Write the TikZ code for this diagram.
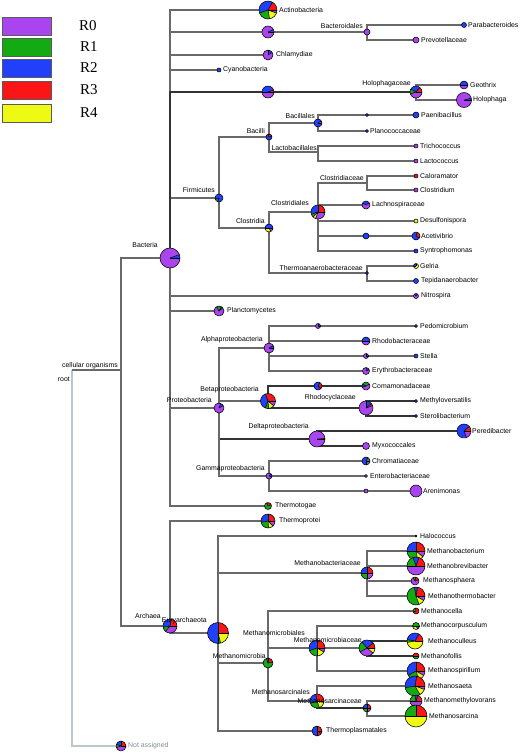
\documentclass[tikz,border=0pt]{standalone}
\usepackage{fontspec}
\setmainfont{Liberation Sans}
\newfontfamily\legfont{Liberation Serif}
\definecolor{pu}{RGB}{170,68,238}
\definecolor{gr}{RGB}{20,170,20}
\definecolor{bl}{RGB}{32,64,250}
\definecolor{rd}{RGB}{250,22,22}
\definecolor{ye}{RGB}{238,250,20}
\definecolor{edgegray}{RGB}{105,105,105}
\definecolor{rootgray}{RGB}{185,200,205}
\definecolor{nagray}{RGB}{125,140,145}
\tikzset{
  edge/.style={draw=edgegray, line width=1.3pt},
  darkedge/.style={draw=black!80, line width=1.4pt},
  rootedge/.style={draw=rootgray, line width=1.3pt},
  pieline/.style={draw=black, line width=0.55pt},
  lab/.style={font=\fontsize{6.9}{7}\selectfont, inner sep=0pt, text=black},
  leaflab/.style={lab, anchor=west},
  inlab/.style={lab, anchor=east},
  legbox/.style={draw={rgb,255:red,90;green,90;blue,90}, line width=0.8pt, minimum width=49pt, minimum height=18pt, inner sep=0pt},
  leglab/.style={font=\legfont\fontsize{15}{15}\selectfont, inner sep=0pt, anchor=west}
}
\newcommand{\mypie}[3]{%
  \foreach \sa/\sb/\sc in {#3}{\fill[fill=\sc] (#1) -- ++(\sa:#2pt) arc[start angle=\sa,end angle=\sb,radius=#2pt] -- cycle;}%
  \foreach \sa/\sb/\sc in {#3}{\draw[pieline] (#1) -- ++(\sa:#2pt);}%
  \draw[pieline] (#1) circle[radius=#2pt];}
\newcommand{\mydot}[3]{\fill[fill=#3] (#1) circle[radius=#2pt]; \draw[pieline] (#1) circle[radius=#2pt];}
\begin{document}
\begin{tikzpicture}[x=1pt,y=-1pt]
\useasboundingbox (0,0) rectangle (520,753);
% legend
\node[legbox, fill=pu] (k0) at (26.5,26) {};
\node[legbox, fill=gr] (k1) at (26.5,47) {};
\node[legbox, fill=bl] (k2) at (26.5,68) {};
\node[legbox, fill=rd] (k3) at (26.5,90) {};
\node[legbox, fill=ye] (k4) at (26.5,113) {};
\node[leglab] (t0) at (79,26) {R0};
\node[leglab] (t1) at (80,47) {R1};
\node[leglab] (t2) at (80,68) {R2};
\node[leglab] (t3) at (80,90) {R3};
\node[leglab] (t4) at (80,113) {R4};
% coordinates
\coordinate (root) at (72,370);
\coordinate (cell) at (121,370);
\coordinate (na) at (121,746);
\coordinate (bact) at (170,258);
\coordinate (actino) at (268,10);
\coordinate (bacteroid) at (268,32);
\coordinate (bacteroidales) at (367,32);
\coordinate (parab) at (464,25);
\coordinate (prevo) at (416,40);
\coordinate (chlam) at (268,55);
\coordinate (cyano) at (219,70);
\coordinate (acido) at (268,92);
\coordinate (holoph) at (416,92);
\coordinate (geoth) at (464,85);
\coordinate (holoa) at (464,100);
\coordinate (firm) at (219,198);
\coordinate (bacilli) at (269,137);
\coordinate (bacillales) at (318,123);
\coordinate (paeni1) at (367,115);
\coordinate (paeni) at (416,115);
\coordinate (plano) at (367,131);
\coordinate (lacto) at (318,152);
\coordinate (tricho) at (416,146);
\coordinate (lactoc) at (416,161);
\coordinate (clostridia) at (269,228);
\coordinate (clostridiales) at (318,212);
\coordinate (clostridiaceae) at (367,183);
\coordinate (calor) at (416,176);
\coordinate (clostr) at (416,190);
\coordinate (lachno) at (366,205);
\coordinate (desulf) at (416,221);
\coordinate (aceti1) at (366,236);
\coordinate (aceti) at (416,236);
\coordinate (syntro) at (416,251);
\coordinate (thermoan) at (367,273);
\coordinate (gelria) at (416,266);
\coordinate (tepid) at (416,281);
\coordinate (nitro) at (416,296);
\coordinate (planct) at (219,311);
\coordinate (proteo) at (219,408);
\coordinate (alpha) at (269,348);
\coordinate (pedo1) at (318,326);
\coordinate (pedo) at (416,326);
\coordinate (rhodob) at (366,341);
\coordinate (stella1) at (366,356);
\coordinate (stella) at (416,356);
\coordinate (erythro) at (366,371);
\coordinate (beta) at (268,401);
\coordinate (coma1) at (318,386);
\coordinate (coma) at (366,386);
\coordinate (rhodoc) at (366,408);
\coordinate (methylo) at (416,401);
\coordinate (sterol) at (416,416);
\coordinate (delta) at (317,439);
\coordinate (pered) at (464,431);
\coordinate (myxo) at (366,446);
\coordinate (gamma) at (269,476);
\coordinate (chroma) at (366,461);
\coordinate (entero) at (366,476);
\coordinate (areni1) at (366,491);
\coordinate (areni) at (416,491);
\coordinate (thermotog) at (268,506);
\coordinate (arch) at (170,626);
\coordinate (thermoprot) at (268,521);
\coordinate (eury) at (218,633);
\coordinate (haloc) at (416,536);
\coordinate (mbacteriaceae) at (367,573);
\coordinate (mbacterium) at (416,551);
\coordinate (mbrevi) at (416,566);
\coordinate (msphaera) at (415,581);
\coordinate (mthermo) at (416,596);
\coordinate (mmicrobia) at (268,663);
\coordinate (mcella) at (416,611);
\coordinate (mmc) at (317,648);
\coordinate (mcorp) at (416,626);
\coordinate (mmc2) at (367,648);
\coordinate (mcull) at (415,641);
\coordinate (mfoll) at (416,656);
\coordinate (mspir) at (416,671);
\coordinate (msarcinaceae) at (317,701);
\coordinate (msaeta) at (415,686);
\coordinate (msc2) at (367,708);
\coordinate (mmethylo) at (416,701);
\coordinate (msarcina) at (416,716);
\coordinate (thermoplas) at (317,731);
% edges
\draw[rootedge] (root) |- (na);
\draw[edge] (root) -- (cell);
\draw[edge] (cell) |- (bact);
\draw[edge] (cell) |- (arch);
\foreach \ch in {actino,bacteroid,chlam,cyano,firm,nitro,planct,proteo,thermotog}{\draw[edge] (bact) |- (\ch);}
\draw[darkedge] (bact) |- (acido);
\draw[edge] (bacteroid) -- (bacteroidales);
\draw[edge] (bacteroidales) |- (parab);
\draw[edge] (bacteroidales) |- (prevo);
\draw[darkedge] (acido) -- (holoph);
\draw[edge] (holoph) |- (geoth);
\draw[edge] (holoph) |- (holoa);
\draw[edge] (firm) |- (bacilli);
\draw[edge] (firm) |- (clostridia);
\draw[edge] (bacilli) |- (bacillales);
\draw[edge] (bacilli) |- (lacto);
\draw[edge] (bacillales) |- (paeni1);
\draw[edge] (paeni1) -- (paeni);
\draw[edge] (bacillales) |- (plano);
\draw[edge] (lacto) |- (tricho);
\draw[edge] (lacto) |- (lactoc);
\draw[edge] (clostridia) |- (clostridiales);
\draw[edge] (clostridia) |- (thermoan);
\draw[edge] (clostridiales) |- (clostridiaceae);
\draw[edge] (clostridiales) |- (lachno);
\draw[edge] (clostridiales) |- (desulf);
\draw[edge] (clostridiales) |- (aceti1);
\draw[edge] (aceti1) -- (aceti);
\draw[edge] (clostridiales) |- (syntro);
\draw[edge] (clostridiaceae) |- (calor);
\draw[edge] (clostridiaceae) |- (clostr);
\draw[edge] (thermoan) |- (gelria);
\draw[edge] (thermoan) |- (tepid);
\draw[edge] (proteo) |- (alpha);
\draw[edge] (proteo) |- (beta);
\draw[darkedge] (proteo) |- (delta);
\draw[edge] (proteo) |- (gamma);
\draw[edge] (alpha) |- (pedo1);
\draw[edge] (pedo1) -- (pedo);
\draw[edge] (alpha) |- (rhodob);
\draw[edge] (alpha) |- (stella1);
\draw[edge] (stella1) -- (stella);
\draw[edge] (alpha) |- (erythro);
\draw[darkedge] (beta) |- (coma1);
\draw[darkedge] (coma1) -- (coma);
\draw[darkedge] (beta) |- (rhodoc);
\draw[darkedge] (rhodoc) |- (methylo);
\draw[darkedge] (rhodoc) |- (sterol);
\draw[darkedge] (delta) |- (pered);
\draw[darkedge] (delta) |- (myxo);
\draw[edge] (gamma) |- (chroma);
\draw[edge] (gamma) |- (entero);
\draw[edge] (gamma) |- (areni1);
\draw[edge] (areni1) -- (areni);
\draw[edge] (arch) |- (thermoprot);
\draw[edge] (arch) |- (eury);
\foreach \ch in {haloc,mbacteriaceae,mmicrobia,thermoplas}{\draw[edge] (eury) |- (\ch);}
\foreach \ch in {mbacterium,mbrevi,msphaera,mthermo}{\draw[edge] (mbacteriaceae) |- (\ch);}
\draw[edge] (mmicrobia) |- (mcella);
\draw[edge] (mmicrobia) |- (mmc);
\draw[edge] (mmicrobia) |- (msarcinaceae);
\draw[edge] (mmc) |- (mcorp);
\draw[edge] (mmc) |- (mmc2);
\draw[edge] (mmc) |- (mspir);
\draw[darkedge] (mmc2) |- (mcull);
\draw[darkedge] (mmc2) |- (mfoll);
\draw[edge] (msarcinaceae) |- (msaeta);
\draw[darkedge] (msarcinaceae) |- (msc2);
\draw[edge] (msc2) |- (mmethylo);
\draw[edge] (msc2) |- (msarcina);
% pies
\mypie{na}{5}{0/90/rd,90/160/bl,160/200/gr,200/360/pu}
\mypie{bact}{10}{0/20/bl,20/360/pu}
\mypie{actino}{9}{0/60/rd,60/200/bl,200/280/gr,280/340/ye,340/360/pu}
\mypie{bacteroid}{6}{0/25/bl,25/360/pu}
\mydot{bacteroidales}{3}{pu}
\mydot{parab}{2.5}{bl}
\mydot{prevo}{3}{pu}
\mypie{chlam}{5}{30/90/bl,90/390/pu}
\mydot{cyano}{2}{bl}
\mypie{acido}{6}{0/20/rd,20/180/bl,180/360/pu}
\mypie{holoph}{6}{0/50/rd,50/150/bl,150/200/gr,200/360/pu}
\mypie{geoth}{4}{0/180/bl,180/360/pu}
\mypie{holoa}{7.5}{0/15/bl,15/360/pu}
\mypie{firm}{4}{200/250/gr,250/560/bl}
\mypie{bacilli}{3}{20/100/rd,100/380/bl}
\mypie{bacillales}{4}{0/30/pu,30/360/bl}
\mydot{paeni1}{1.5}{bl}
\mydot{paeni}{3}{bl}
\mydot{plano}{1.5}{bl}
\mydot{tricho}{2}{pu}
\mydot{lactoc}{2}{pu}
\mypie{clostridia}{4}{0/180/bl,180/300/ye,300/360/pu}
\mypie{clostridiales}{7}{0/90/rd,90/200/bl,200/225/gr,225/250/ye,250/360/pu}
\mydot{calor}{2}{rd}
\mydot{clostr}{2}{pu}
\mypie{lachno}{4}{30/150/bl,150/390/pu}
\mydot{desulf}{2}{ye}
\mydot{aceti1}{3}{bl}
\mypie{aceti}{4}{-30/70/rd,70/330/bl}
\mydot{syntro}{2}{bl}
\mydot{thermoan}{1.5}{bl}
\mypie{gelria}{2.5}{90/180/bl,180/450/ye}
\mydot{tepid}{2.5}{bl}
\mypie{nitro}{2.5}{60/120/bl,120/420/pu}
\mypie{planct}{5}{40/60/bl,60/120/gr,120/400/pu}
\mypie{proteo}{5}{30/70/bl,70/390/pu}
\mypie{alpha}{5}{0/30/bl,30/360/pu}
\mypie{pedo1}{2.5}{0/90/bl,90/360/pu}
\mydot{pedo}{1.5}{bl}
\mypie{rhodob}{4}{0/180/bl,180/360/pu}
\mypie{stella1}{2.5}{0/90/bl,90/360/pu}
\mydot{stella}{2}{bl}
\mypie{erythro}{3.5}{20/80/bl,80/380/pu}
\mypie{beta}{7.5}{0/110/rd,110/250/bl,250/275/gr,275/320/ye,320/360/pu}
\mypie{coma1}{4}{-40/60/rd,60/320/bl}
\mypie{coma}{4}{30/150/gr,150/200/bl,200/390/pu}
\mypie{rhodoc}{7}{20/40/rd,40/90/bl,90/380/pu}
\mydot{methylo}{1.5}{bl}
\mydot{sterol}{1.5}{bl}
\mypie{delta}{8}{0/4/bl,4/360/pu}
\mypie{pered}{7}{0/40/rd,40/290/bl,290/360/pu}
\mydot{myxo}{3.5}{pu}
\mypie{gamma}{3}{-20/40/bl,40/340/pu}
\mypie{chroma}{4}{0/60/gr,60/270/bl,270/360/pu}
\mydot{entero}{1.5}{pu}
\mydot{areni1}{2}{pu}
\mydot{areni}{6}{pu}
\mypie{thermotog}{3.5}{20/110/rd,110/380/gr}
\mypie{thermoprot}{7}{0/90/rd,90/190/bl,190/275/gr,275/315/ye,315/360/pu}
\mypie{arch}{7}{0/80/rd,80/190/bl,190/230/gr,230/360/pu}
\mypie{eury}{10.5}{0/90/rd,90/270/bl,270/285/gr,285/360/ye}
\mydot{haloc}{1}{bl}
\mypie{mbacteriaceae}{6}{0/90/rd,90/180/bl,180/270/gr,270/360/pu}
\mypie{mbacterium}{9}{0/90/rd,90/180/bl,180/280/gr,280/320/ye,320/360/pu}
\mypie{mbrevi}{9}{0/70/rd,70/110/bl,110/180/gr,180/360/pu}
\mypie{msphaera}{4}{20/80/rd,80/120/gr,120/380/pu}
\mypie{mthermo}{9}{0/80/rd,80/100/bl,100/290/gr,290/330/ye,330/360/pu}
\mypie{mmicrobia}{5}{10/80/rd,80/110/bl,110/370/gr}
\mypie{mcella}{3}{100/200/gr,200/460/rd}
\mypie{mmc}{8}{0/90/rd,90/200/bl,200/270/gr,270/330/ye,330/360/pu}
\mypie{mcorp}{3.5}{0/180/gr,180/300/ye,300/360/bl}
\mypie{mmc2}{8}{0/40/rd,40/130/bl,130/210/gr,210/320/pu,320/360/ye}
\mypie{mcull}{8}{0/60/rd,60/170/bl,170/190/gr,190/360/ye}
\mypie{mfoll}{3}{0/180/rd,180/360/gr}
\mypie{mspir}{9}{0/90/rd,90/210/bl,210/290/gr,290/330/ye,330/360/pu}
\mypie{msarcinaceae}{7}{0/100/rd,100/200/bl,200/290/gr,290/360/ye}
\mypie{msaeta}{10}{0/80/rd,80/190/bl,190/300/gr,300/340/ye,340/360/pu}
\mypie{msc2}{4}{0/90/rd,90/180/bl,180/270/gr,270/360/pu}
\mypie{mmethylo}{6}{0/70/rd,70/100/bl,100/180/gr,180/360/pu}
\mypie{msarcina}{11}{0/90/rd,90/180/gr,180/360/ye}
\mypie{thermoplas}{5}{0/90/rd,90/270/bl,270/330/rd,330/360/pu}
% internal labels
\node[inlab] (l-root) at (70,379) {root};
\node[inlab] (l-cell) at (118,366) {cellular organisms};
\node[inlab] (l-bact) at (158,245) {Bacteria};
\node[inlab] (l-arch) at (161,616) {Archaea};
\node[inlab] (l-eury) at (207,621) {Euryarchaeota};
\node[inlab] (l-bacteroidales) at (363,26) {Bacteroidales};
\node[inlab] (l-holoph) at (411,84) {Holophagaceae};
\node[inlab] (l-firm) at (215,190) {Firmicutes};
\node[inlab] (l-bacilli) at (265,131) {Bacilli};
\node[inlab] (l-bacillales) at (315,116) {Bacillales};
\node[inlab] (l-lacto) at (317,148.5) {Lactobacillales};
\node[inlab] (l-clostridia) at (265,221) {Clostridia};
\node[inlab] (l-clostridiales) at (309,203) {Clostridiales};
\node[inlab] (l-clostridiaceae) at (364,178) {Clostridiaceae};
\node[inlab] (l-thermoan) at (363,268) {Thermoanaerobacteraceae};
\node[inlab] (l-alpha) at (263,340) {Alphaproteobacteria};
\node[inlab] (l-beta) at (259,390) {Betaproteobacteria};
\node[inlab] (l-proteo) at (212,400) {Proteobacteria};
\node[inlab] (l-rhodoc) at (356,398) {Rhodocyclaceae};
\node[inlab] (l-delta) at (309,427) {Deltaproteobacteria};
\node[inlab] (l-gamma) at (265,469) {Gammaproteobacteria};
\node[inlab] (l-mbacteriaceae) at (361,563) {Methanobacteriaceae};
\node[inlab] (l-mmicrobiales) at (305,633) {Methanomicrobiales};
\node[inlab] (l-mmicrobia) at (266,656) {Methanomicrobia};
\node[inlab] (l-mmc) at (362,640) {Methanomicrobiaceae};
\node[inlab] (l-msarcinales) at (310,692) {Methanosarcinales};
\node[inlab] (l-msarcinaceae) at (362,701) {Methanosarcinaceae};
% leaf labels
\node[leaflab] (n-actino) at (279,10) {Actinobacteria};
\node[leaflab] (n-parab) at (468,25) {Parabacteroides};
\node[leaflab] (n-prevo) at (421,40) {Prevotellaceae};
\node[leaflab] (n-chlam) at (276,55) {Chlamydiae};
\node[leaflab] (n-cyano) at (223,70) {Cyanobacteria};
\node[leaflab] (n-geoth) at (470,85) {Geothrix};
\node[leaflab] (n-holoa) at (473,100) {Holophaga};
\node[leaflab] (n-paeni) at (421,115) {Paenibacillus};
\node[leaflab] (n-plano) at (370,131) {Planococcaceae};
\node[leaflab] (n-tricho) at (420,146) {Trichococcus};
\node[leaflab] (n-lactoc) at (420,161) {Lactococcus};
\node[leaflab] (n-calor) at (420,176) {Caloramator};
\node[leaflab] (n-clostr) at (420,190) {Clostridium};
\node[leaflab] (n-lachno) at (372,205) {Lachnospiraceae};
\node[leaflab] (n-desulf) at (420,221) {Desulfonispora};
\node[leaflab] (n-aceti) at (421,236) {Acetivibrio};
\node[leaflab] (n-syntro) at (420,251) {Syntrophomonas};
\node[leaflab] (n-gelria) at (420,266) {Gelria};
\node[leaflab] (n-tepid) at (421,281) {Tepidanaerobacter};
\node[leaflab] (n-nitro) at (421,296) {Nitrospira};
\node[leaflab] (n-planct) at (227,311) {Planctomycetes};
\node[leaflab] (n-pedo) at (420,326) {Pedomicrobium};
\node[leaflab] (n-rhodob) at (372,341) {Rhodobacteraceae};
\node[leaflab] (n-stella) at (420,356) {Stella};
\node[leaflab] (n-erythro) at (372,371) {Erythrobacteraceae};
\node[leaflab] (n-coma) at (372,386) {Comamonadaceae};
\node[leaflab] (n-methylo) at (420,401) {Methyloversatilis};
\node[leaflab] (n-sterol) at (420,416) {Sterolibacterium};
\node[leaflab] (n-pered) at (472,431) {Peredibacter};
\node[leaflab] (n-myxo) at (372,446) {Myxococcales};
\node[leaflab] (n-chroma) at (372,461) {Chromatiaceae};
\node[leaflab] (n-entero) at (370,476) {Enterobacteriaceae};
\node[leaflab] (n-areni) at (423,491) {Arenimonas};
\node[leaflab] (n-thermotog) at (275,506) {Thermotogae};
\node[leaflab] (n-thermoprot) at (279,521) {Thermoprotei};
\node[leaflab] (n-haloc) at (420,536) {Halococcus};
\node[leaflab] (n-mbacterium) at (427,551) {Methanobacterium};
\node[leaflab] (n-mbrevi) at (427,566) {Methanobrevibacter};
\node[leaflab] (n-msphaera) at (423,581) {Methanosphaera};
\node[leaflab] (n-mthermo) at (428,596) {Methanothermobacter};
\node[leaflab] (n-mcella) at (421,611) {Methanocella};
\node[leaflab] (n-mcorp) at (421,626) {Methanocorpusculum};
\node[leaflab] (n-mcull) at (428,641) {Methanoculleus};
\node[leaflab] (n-mfoll) at (421,656) {Methanofollis};
\node[leaflab] (n-mspir) at (428,671) {Methanospirillum};
\node[leaflab] (n-msaeta) at (428,686) {Methanosaeta};
\node[leaflab] (n-mmethylo) at (424,701) {Methanomethylovorans};
\node[leaflab] (n-msarcina) at (429,716) {Methanosarcina};
\node[leaflab] (n-thermoplas) at (326,731) {Thermoplasmatales};
\node[leaflab, text=nagray] (n-na) at (128,746) {Not assigned};
\end{tikzpicture}
\end{document}
